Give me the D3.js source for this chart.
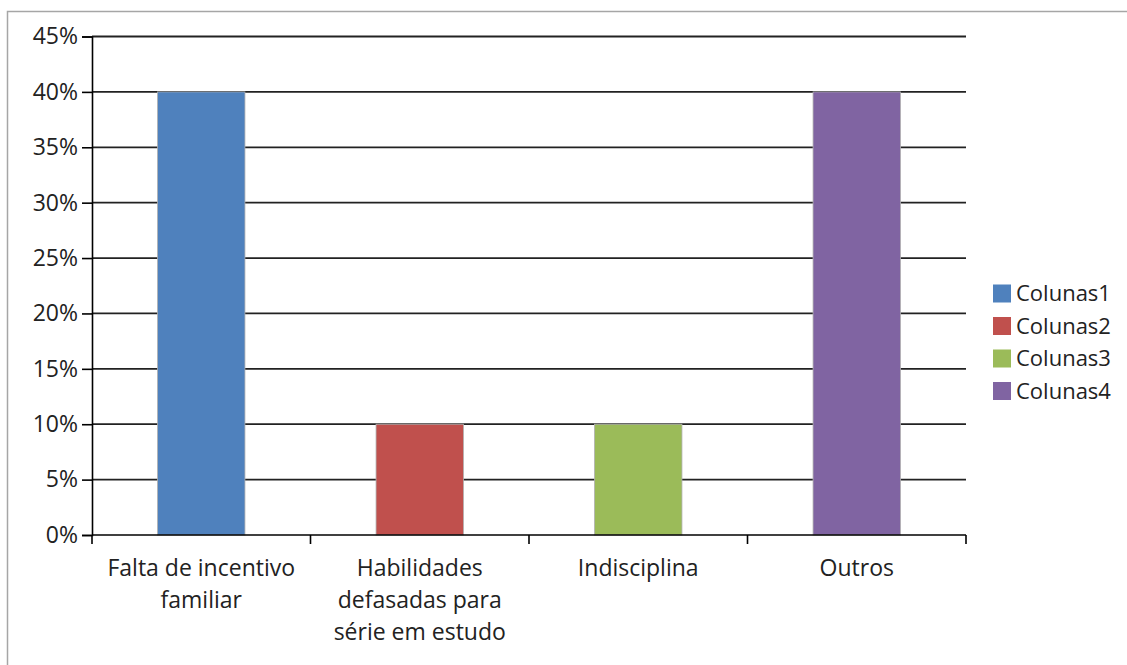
<!DOCTYPE html>
<html>
<head>
<meta charset="utf-8">
<script src="https://cdn.jsdelivr.net/npm/d3@7"></script>
<style>
  html, body { margin: 0; padding: 0; background: #fff; }
  svg { display: block; }
  text { font-family: "Open Sans", sans-serif; fill: #222; }
</style>
</head>
<body>
<svg id="chart" width="1127" height="665"></svg>
<script>
// Chart data
const categories = [
  ["Falta de incentivo", "familiar"],
  ["Habilidades", "defasadas para", "série em estudo"],
  ["Indisciplina"],
  ["Outros"]
];
const seriesNames = ["Colunas1", "Colunas2", "Colunas3", "Colunas4"];
const values = [0.40, 0.10, 0.10, 0.40];
const yTicks = [0, 0.05, 0.10, 0.15, 0.20, 0.25, 0.30, 0.35, 0.40, 0.45];
const colors = ["#4F81BD", "#C0504D", "#9BBB59", "#8064A2"];

const AXIS_FONT = "23px";
const LEGEND_FONT = "22px";
const svg = d3.select("#chart");

// Outer chart frame
svg.append("rect")
  .attr("x", 7.5).attr("y", 11.5)
  .attr("width", 1130).attr("height", 670)
  .attr("fill", "#fff")
  .attr("stroke", "#a6a6a6")
  .attr("stroke-width", 1.5);

const plot = { left: 92, right: 966, top: 36.5, bottom: 535 };

const x = d3.scaleBand()
  .domain(d3.range(categories.length))
  .range([plot.left, plot.right])
  .paddingInner(0.6)
  .paddingOuter(0.3);

const xBand = d3.scaleBand()
  .domain(d3.range(categories.length))
  .range([plot.left, plot.right]);

const y = d3.scaleLinear()
  .domain([0, 0.45])
  .range([plot.bottom, plot.top]);

// Horizontal gridlines
svg.append("g")
  .selectAll("line")
  .data(yTicks.filter(d => d > 0))
  .join("line")
  .attr("x1", plot.left).attr("x2", plot.right)
  .attr("y1", d => y(d)).attr("y2", d => y(d))
  .attr("stroke", "#222")
  .attr("stroke-width", 1.8);

// Bars
svg.append("g")
  .selectAll("rect")
  .data(values)
  .join("rect")
  .attr("x", (d, i) => x(i))
  .attr("width", x.bandwidth())
  .attr("y", d => y(d))
  .attr("height", d => y(0) - y(d))
  .attr("fill", (d, i) => colors[i])
  .attr("stroke", "#b0b0b0")
  .attr("stroke-width", 0.8);

// Y axis
const yAxis = d3.axisLeft(y)
  .tickValues(yTicks)
  .tickFormat(d3.format(".0%"))
  .tickSize(10)
  .tickPadding(4);

const yG = svg.append("g")
  .attr("transform", `translate(${plot.left},0)`)
  .call(yAxis);
yG.select(".domain").attr("stroke", "#000").attr("stroke-width", 1.6);
yG.selectAll(".tick line").attr("stroke", "#000").attr("stroke-width", 1.6);
yG.selectAll(".tick text")
  .style("font-family", "'Open Sans', sans-serif")
  .style("font-size", AXIS_FONT)
  .attr("fill", "#222");

// X axis baseline with tick marks at category boundaries
const xG = svg.append("g");
xG.append("line")
  .attr("x1", plot.left).attr("x2", plot.right)
  .attr("y1", y(0)).attr("y2", y(0))
  .attr("stroke", "#000").attr("stroke-width", 1.6);
xG.selectAll("line.tk")
  .data(d3.range(categories.length + 1))
  .join("line")
  .attr("class", "tk")
  .attr("x1", i => i < categories.length ? xBand(i) : plot.right)
  .attr("x2", i => i < categories.length ? xBand(i) : plot.right)
  .attr("y1", y(0)).attr("y2", y(0) + 9)
  .attr("stroke", "#000").attr("stroke-width", 1.6);

// Category labels
const labels = svg.append("g")
  .selectAll("text")
  .data(categories)
  .join("text")
  .attr("text-anchor", "middle")
  .style("font-size", AXIS_FONT)
  .attr("x", (d, i) => xBand(i) + xBand.bandwidth() / 2)
  .attr("y", 576);
labels.selectAll("tspan")
  .data(d => d)
  .join("tspan")
  .attr("x", function () { return d3.select(this.parentNode).attr("x"); })
  .attr("dy", (d, i) => i === 0 ? 0 : 32)
  .text(d => d);

// Legend
const legend = svg.append("g")
  .selectAll("g")
  .data(seriesNames)
  .join("g")
  .attr("transform", (d, i) => `translate(993, ${284.5 + i * 32.5})`);
legend.append("rect")
  .attr("width", 18).attr("height", 18)
  .attr("fill", (d, i) => colors[i]);
legend.append("text")
  .attr("x", 23).attr("y", 16.5)
  .style("font-size", LEGEND_FONT)
  .text(d => d);
</script>
</body>
</html>
